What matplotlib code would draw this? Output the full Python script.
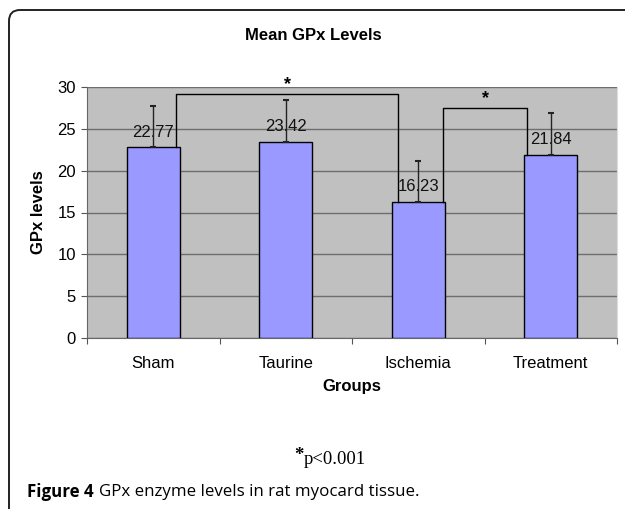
import matplotlib
matplotlib.use("Agg")
import matplotlib.pyplot as plt
from matplotlib.patches import FancyBboxPatch
from matplotlib.transforms import IdentityTransform

# data
groups = ["Sham", "Taurine", "Ischemia", "Treatment"]
means = [22.77, 23.42, 16.23, 21.84]
errors = [5.0, 5.05, 4.9, 5.0]
labels = ["22.77", "23.42", "16.23", "21.84"]

plt.rcParams["font.family"] = ["Liberation Sans", "DejaVu Sans"]

fig = plt.figure(figsize=(6.25, 5.09), dpi=100)
W, H = 625, 509

# rounded outer frame, clipped at right and bottom like the source page
frame = FancyBboxPatch((9, -100), 700, H - 10 + 100,
                       boxstyle="round,pad=0,rounding_size=11",
                       transform=IdentityTransform(), fill=False,
                       edgecolor="#222222", linewidth=1.4)
fig.patches.append(frame)

ax = fig.add_axes([87 / W, 1 - 338 / H, (617 - 87) / W, (338 - 87) / H])
ax.set_facecolor("#C0C0C0")

x = list(range(len(groups)))
ax.bar(x, means, width=0.4, color="#9999FF", edgecolor="black",
       linewidth=1.0, zorder=3)

# value labels
for xi, m, lab in zip(x, means, labels):
    ax.text(xi, m + 1.3, lab, ha="center", va="baseline", fontsize=12,
            color="#111111", zorder=4)

# plus-only error bars
ax.errorbar(x, means, yerr=[[0] * len(errors), errors], fmt="none",
            ecolor="#222222", elinewidth=1.0, capsize=2.5, capthick=1.5,
            zorder=5)

# significance brackets
def bracket(x1, x2, y1, y2, top):
    ax.plot([x1, x1, x2, x2], [y1, top, top, y2], color="black",
            linewidth=1.0, zorder=6, clip_on=False)
    ax.text((x1 + x2) / 2, top + 0.1, "*", ha="center", va="bottom",
            fontsize=13, fontweight="bold", zorder=6)

bracket(0.17, 1.85, means[0], means[2], 29.2)
bracket(2.19, 2.82, means[2], means[3], 27.45)

ax.set_xlim(-0.5, 3.5)
ax.set_ylim(0, 30)
ax.set_yticks(range(0, 31, 5))
ax.set_yticklabels([str(v) for v in range(0, 31, 5)], fontsize=12)
ax.yaxis.grid(True, color="#6E6E6E", linewidth=1.0, zorder=0)
ax.set_axisbelow(True)

ax.set_xticks([-0.5, 0.5, 1.5, 2.5, 3.5])
ax.set_xticklabels([])
ax.set_xticks(x, minor=True)
ax.set_xticklabels(groups, minor=True, fontsize=12)
ax.tick_params(axis="x", which="minor", length=0, pad=13)
ax.tick_params(axis="x", which="major", length=4, color="#555555")
ax.tick_params(axis="y", length=4, color="#555555", pad=4)

ax.spines["top"].set_visible(False)
ax.spines["right"].set_color("#DDDDDD")
ax.spines["left"].set_color("#666666")
ax.spines["bottom"].set_color("#666666")

ax.set_ylabel("GPx levels", fontsize=12, fontweight="bold", labelpad=8)
ax.set_xlabel("Groups", fontsize=12, fontweight="bold", labelpad=6)

fig.text(313 / W, 1 - 35 / H, "Mean GPx Levels", ha="center", va="center",
         fontsize=12, fontweight="bold")

# footnote
fig.text(304 / W, 1 - 456 / H, "*", ha="right", va="center", fontsize=13.5,
         fontweight="bold", family=["Liberation Serif"])
fig.text(304 / W, 1 - 460 / H, "p<0.001", ha="left", va="center",
         fontsize=13.5, family=["Liberation Serif"])

# caption with bold lead
cap1 = fig.text(27 / W, 1 - 492 / H, "Figure 4", ha="left", va="center",
                fontsize=12.2, fontweight="bold",
                family=["Open Sans", "DejaVu Sans"])
fig.canvas.draw()
bb = cap1.get_window_extent()
fig.text((bb.x1 + 5) / W, 1 - 492 / H,
         "GPx enzyme levels in rat myocard tissue.",
         ha="left", va="center", fontsize=12.2,
         family=["Open Sans", "DejaVu Sans"])

fig.savefig("out.png", dpi=100)
